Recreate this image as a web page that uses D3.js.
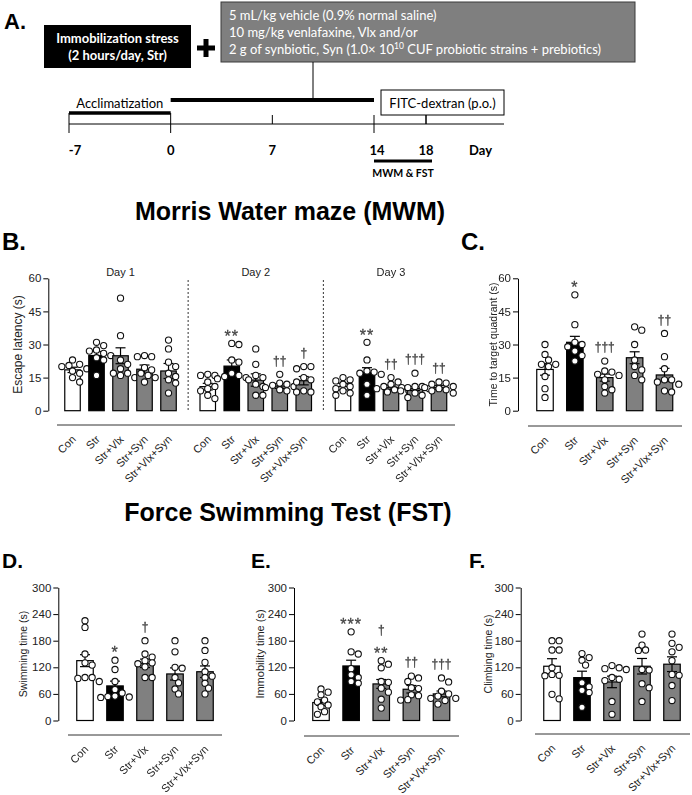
<!DOCTYPE html>
<html><head><meta charset="utf-8">
<script src="https://cdn.jsdelivr.net/npm/d3@7"></script>
<style>body{margin:0;background:#fff}svg{display:block}.sig{will-change:transform}</style>
</head><body>
<svg id="fig" width="692" height="795"></svg>
<script>
// ================= DATA =================
const groups = ["Con", "Str", "Str+Vlx", "Str+Syn", "Str+Vlx+Syn"];
const groupFill = ["#ffffff", "#000000", "#808080", "#808080", "#808080"];
const mwmDays = ["Day 1", "Day 2", "Day 3"];
const timelineTicks = [-7, 0, 7, 14, 18];
const treatmentLines = ["5 mL/kg vehicle (0.9% normal saline)", "10 mg/kg venlafaxine, Vlx and/or"];
const mwmTicks = [0, 15, 30, 45, 60];
const fstTicks = [0, 60, 120, 180, 240, 300];

// B. Escape latency (s)
const escapeMeanDay1 = [18.5, 25.0, 24.9, 18.8, 18.0];
const escapeSemDay1  = [1.2, 1.8, 3.6, 1.9, 3.4];
const escapePointsDay1 = [
  [23, 21, 20.5, 20, 19, 18, 17, 15, 13],
  [31, 29.5, 27.5, 27, 26, 25, 24, 23, 16],
  [51, 34, 23, 21, 19, 17, 17, 16, 15],
  [25, 24.5, 24.5, 19.5, 18.5, 17, 16, 15, 13],
  [32, 28, 22, 20, 17, 15.5, 14, 12.5, 8]
];
const escapeSigDay1 = [[], [], [], [], []];
const escapeMeanDay2 = [10.9, 20.2, 13.9, 11.2, 13.6];
const escapeSemDay2  = [1.5, 2.8, 2.8, 1.1, 1.9];
const escapePointsDay2 = [
  [16.5, 16, 16, 13, 11, 10, 9, 7, 5.5],
  [30.5, 30, 23, 22, 17, 16, 15.5, 15, 14.5],
  [28, 21, 16, 15, 14, 12, 11, 7, 7],
  [16.5, 12.5, 12, 11.5, 11, 10.5, 10, 9.5, 9],
  [20, 20, 19, 15, 14, 13, 9, 8.5, 8.5]
];
const escapeSigDay2 = [[], ["**"], [], ["††"], ["†"]];
const escapeMeanDay3 = [10.9, 17.4, 10.6, 10.0, 10.6];
const escapeSemDay3  = [1.5, 2.1, 1.0, 0.9, 0.9];
const escapePointsDay3 = [
  [15, 14, 13.5, 12, 11, 10, 9, 8, 7],
  [31, 23, 18, 17.5, 17, 16.5, 12, 7],
  [15, 13, 12, 11, 10.5, 10, 9.5, 9, 8.5],
  [17, 11, 11, 10.5, 10, 9, 8, 7, 6],
  [13, 12.5, 12, 11, 10.5, 10, 9.5, 9, 8]
];
const escapeSigDay3 = [[], ["**"], ["††"], ["†††"], ["††"]];

// C. Time to target quadrant (s)
const quadrantMean = [18.7, 31.0, 15.0, 24.0, 16.2];
const quadrantSem  = [2.6, 2.7, 1.6, 2.7, 3.0];
const quadrantPoints = [
  [30, 25.5, 23, 21, 21, 20, 15.5, 10, 6],
  [52.5, 39, 31, 30, 29, 27, 25, 22.5],
  [22.5, 18, 17.5, 16.5, 16, 14, 11, 9.5, 8],
  [38, 36.5, 30, 23, 20, 18.5, 16, 14],
  [35, 24.5, 19, 14, 14, 13, 12, 9, 8.5]
];
const quadrantSig = [[], ["*"], ["†††"], [], ["††"]];

// D. Swimming time (s)
const swimMean = [135, 78, 129, 105, 110];
const swimSem  = [13.5, 10.8, 9.5, 13.7, 13];
const swimPoints = [
  [225, 210, 150, 130, 125, 97, 97, 95, 88],
  [136, 115, 88, 70, 62, 55, 54, 53, 52],
  [180, 150, 143, 135, 130, 128, 121, 97, 97],
  [180, 155, 120, 118, 97, 85, 71, 60],
  [180, 158, 131, 110, 100, 97, 84, 73, 60]
];
const swimSig = [[], ["*"], ["†"], [], []];

// E. Immobility time (s)
const immobMean = [40.5, 123, 82.5, 70.5, 60];
const immobSem  = [6.5, 13, 10, 8.5, 6.5];
const immobPoints = [
  [71, 64, 58, 46, 42, 35, 31, 20, 14],
  [200, 155, 150, 117, 103, 97, 88, 84],
  [135, 127, 119, 88, 86, 73, 64, 48, 28],
  [100, 96, 88, 74, 72, 58, 56, 47, 46],
  [96, 87, 66, 60, 55, 50, 50, 45, 37]
];
const immobSig = [[], ["***"], ["**", "†"], ["††"], ["†††"]];

// F. Climbing time (s)
const climbMean = [122.4, 96.7, 87, 122.4, 127];
const climbSem  = [17, 14.5, 13, 17.5, 16.6];
const climbPoints = [
  [180, 180, 159, 159, 119, 104, 102, 101, 59, 49],
  [151, 142, 136, 125, 85, 76, 68, 63, 30],
  [124, 119, 117, 115, 97, 93, 90, 43, 14],
  [195, 170, 159, 158, 115, 114, 83, 74, 43],
  [195, 174, 165, 155, 135, 104, 102, 79, 45]
];
const climbSig = [[], [], [], [], []];

// ================= DRAWING =================
const svg = d3.select("#fig");
const SANS = "'Liberation Sans', Arial, sans-serif";
const CAL = "Lato, 'Open Sans', sans-serif";

// ---------- Panel A ----------
const A = svg.append("g");
A.append("text").attr("x", 4).attr("y", 29).attr("font-family", SANS).attr("font-weight", "bold")
  .attr("font-size", 22).text("A.");
A.append("rect").attr("x", 44).attr("y", 25).attr("width", 147).attr("height", 43).attr("fill", "#000");
A.append("text").attr("x", 117.5).attr("y", 42.5).attr("text-anchor", "middle").attr("fill", "#fff")
  .attr("font-family", CAL).attr("font-weight", "bold").attr("font-size", 13).text("Immobilization stress");
A.append("text").attr("x", 117.5).attr("y", 59.5).attr("text-anchor", "middle").attr("fill", "#fff")
  .attr("font-family", CAL).attr("font-weight", "bold").attr("font-size", 13).text("(2 hours/day, Str)");
A.append("rect").attr("x", 197).attr("y", 45.5).attr("width", 18).attr("height", 5).attr("fill", "#000");
A.append("rect").attr("x", 203.5).attr("y", 39).attr("width", 5).attr("height", 18).attr("fill", "#000");
A.append("rect").attr("x", 221).attr("y", 2).attr("width", 414).attr("height", 60)
  .attr("fill", "#7f7f7f").attr("stroke", "#3a3a3a").attr("stroke-width", 1);
treatmentLines.forEach((t, i) => {
  A.append("text").attr("x", 229).attr("y", 20 + i * 17).attr("fill", "#fff")
    .attr("font-family", CAL).attr("font-size", 13).text(t);
});
const l3 = A.append("text").attr("x", 229).attr("y", 54).attr("fill", "#fff")
  .attr("font-family", CAL).attr("font-size", 13);
l3.append("tspan").text("2 g of synbiotic, Syn (1.0\u00d7 10");
l3.append("tspan").attr("font-size", 8.5).attr("dy", -5).text("10");
l3.append("tspan").attr("dy", 5).text(" CUF probiotic strains + prebiotics)");

const dayScale = d3.scaleLinear().domain([-7, 14, 18, 24]).range([69, 374, 426, 504]);
const TL = A.append("g").attr("stroke", "#000");
TL.append("line").attr("x1", dayScale(-7)).attr("x2", dayScale(24)).attr("y1", 124).attr("y2", 124).attr("stroke-width", 1);
TL.append("line").attr("x1", dayScale(-7)).attr("x2", dayScale(0)).attr("y1", 113).attr("y2", 113).attr("stroke-width", 3.5);
TL.append("line").attr("x1", dayScale(0)).attr("x2", dayScale(14)).attr("y1", 100).attr("y2", 100).attr("stroke-width", 4);
TL.append("line").attr("x1", dayScale(9.8)).attr("x2", dayScale(9.8)).attr("y1", 62).attr("y2", 100).attr("stroke-width", 1);
TL.selectAll("line.tk").data(timelineTicks).join("line").attr("class", "tk")
  .attr("x1", d => dayScale(d)).attr("x2", d => dayScale(d))
  .attr("y1", d => (d <= 0 ? 113 : 115)).attr("y2", d => (d <= 0 || d === 14 ? 133 : 124))
  .attr("stroke-width", 1);
A.append("rect").attr("x", dayScale(14) + 7).attr("y", 90).attr("width", dayScale(24) - dayScale(14) - 7).attr("height", 25)
  .attr("fill", "#fff").attr("stroke", "#000").attr("stroke-width", 1);
A.append("line").attr("x1", dayScale(18)).attr("x2", dayScale(18)).attr("y1", 115).attr("y2", 124).attr("stroke", "#000");
A.append("text").attr("x", (dayScale(14) + 7 + dayScale(24)) / 2).attr("y", 107.5).attr("text-anchor", "middle")
  .attr("font-family", CAL).attr("font-size", 13).text("FITC-dextran (p.o.)");
A.append("text").attr("x", (dayScale(-7) + dayScale(0)) / 2).attr("y", 107.5).attr("text-anchor", "middle")
  .attr("font-family", CAL).attr("font-size", 13).text("Acclimatization");
A.selectAll("text.tl").data(timelineTicks).join("text").attr("class", "tl")
  .attr("x", d => dayScale(d) + (d < 0 ? 6 : d === 14 ? 3 : 0)).attr("y", 155).attr("text-anchor", "middle")
  .attr("font-family", CAL).attr("font-weight", "bold").attr("font-size", 13).text(d => d);
A.append("text").attr("x", dayScale(22.2)).attr("y", 155).attr("text-anchor", "middle")
  .attr("font-family", CAL).attr("font-weight", "bold").attr("font-size", 13).text("Day");
A.append("line").attr("x1", dayScale(14)).attr("x2", dayScale(18) + 6).attr("y1", 161).attr("y2", 161)
  .attr("stroke", "#000").attr("stroke-width", 3);
A.append("text").attr("x", (dayScale(14) + dayScale(18) + 6) / 2).attr("y", 177).attr("text-anchor", "middle")
  .attr("font-family", CAL).attr("font-weight", "bold").attr("font-size", 10.5).text("MWM & FST");

// ---------- titles & panel letters ----------
function bigText(x, y, t, size, anchor) {
  svg.append("text").attr("x", x).attr("y", y).attr("text-anchor", anchor || "start")
    .attr("font-family", SANS).attr("font-weight", "bold").attr("font-size", size).text(t);
}
bigText(290, 220, "Morris Water maze (MWM)", 25, "middle");
bigText(288, 521, "Force Swimming Test (FST)", 25, "middle");
bigText(2, 250, "B.", 24);
bigText(461, 250, "C.", 24);
bigText(2, 568, "D.", 21);
bigText(251, 568, "E.", 21);
bigText(469, 568, "F.", 21);

// ---------- helpers ----------
function swarm(values, y, r) {
  const placed = [], out = new Array(values.length);
  const order = values.map((v, i) => i).sort((a, b) => values[b] - values[a]);
  const step = r * 1.15;
  for (const i of order) {
    const yy = y(values[i]);
    const cands = [0];
    for (let k = 1; k < 8; k++) cands.push(k * step, -k * step);
    let off = cands[cands.length - 1];
    for (const c of cands) {
      if (placed.every(p => Math.hypot(p.x - c, p.y - yy) >= 2 * r * 0.92)) { off = c; break; }
    }
    placed.push({ x: off, y: yy }); out[i] = off;
  }
  return out;
}

function yAxis(x0, y, ticks, label, labelX, labelSize) {
  const g = svg.append("g").attr("transform", `translate(${x0},0)`)
    .call(d3.axisLeft(y).tickValues(ticks).tickSize(5).tickSizeOuter(0).tickPadding(2));
  g.select(".domain").attr("stroke", "#000").attr("stroke-width", 1);
  g.selectAll(".tick line").attr("stroke", "#000");
  g.selectAll(".tick text").attr("font-family", SANS).attr("font-size", 11.5).attr("fill", "#222");
  const [r0, r1] = y.range();
  svg.append("text").attr("transform", `translate(${labelX},${(r0 + r1) / 2}) rotate(-90)`)
    .attr("text-anchor", "middle").attr("dominant-baseline", "central")
    .attr("font-family", SANS).attr("font-size", labelSize).attr("fill", "#222").text(label);
}

function drawGroups(xPos, y, means, sems, points, sigs, barW) {
  const g = svg.append("g");
  groups.forEach((name, i) => {
    const cx = xPos(name);
    g.append("rect").attr("x", cx - barW / 2).attr("y", y(means[i])).attr("width", barW)
      .attr("height", y(0) - y(means[i])).attr("fill", groupFill[i]).attr("stroke", "#000").attr("stroke-width", 1.2);
    const hi = y(means[i] + sems[i]), lo = y(means[i] - sems[i]);
    g.append("line").attr("x1", cx).attr("x2", cx).attr("y1", hi).attr("y2", lo).attr("stroke", "#000").attr("stroke-width", 1.2);
    [hi, lo].forEach(yy => g.append("line").attr("x1", cx - 5).attr("x2", cx + 5).attr("y1", yy).attr("y2", yy)
      .attr("stroke", "#000").attr("stroke-width", 1.2));
    const offs = swarm(points[i], y, 3.1);
    g.selectAll(null).data(points[i]).join("circle")
      .attr("cx", (d, k) => cx + offs[k]).attr("cy", d => y(d)).attr("r", 3.1)
      .attr("fill", "#fff").attr("stroke", "#111").attr("stroke-width", 1.1);
    const top = Math.min(y(d3.max(points[i])), hi);
    sigs[i].forEach((s, k) => {
      const star = s.includes("*");
      const fs = star ? 16 : 12;
      const center = top - (star ? 11 : 13) - k * 17;
      g.append("text").attr("class", "sig").attr("x", cx).attr("y", center + (star ? 0.58 : 0.27) * fs)
        .attr("text-anchor", "middle").attr("font-family", SANS).attr("font-size", fs)
        .attr("letter-spacing", star ? 1 : 0).attr("fill", "#444")
        .attr("stroke", "#444").attr("stroke-width", 0.3).text(s);
    });
  });
}

function xLabels(xPos, lineY) {
  svg.append("g").selectAll("text").data(groups).join("text")
    .attr("transform", d => `translate(${xPos(d) + 4},${lineY + 15}) rotate(-45)`)
    .attr("text-anchor", "end").attr("font-family", SANS).attr("font-size", 11).attr("fill", "#222").text(d => d);
}
function baseLine(x1, x2, y) {
  svg.append("line").attr("x1", x1).attr("x2", x2).attr("y1", y).attr("y2", y)
    .attr("stroke", "#333").attr("stroke-width", 1);
}

// ---------- Panel B ----------
const yB = d3.scaleLinear().domain([0, 60]).range([410.7, 278.3]);
yAxis(48.3, yB, mwmTicks, "Escape latency (s)", 18, 12);
const dayBand = d3.scaleBand().domain(mwmDays).range([52.9, 458.6]);
const inner = d3.scalePoint().domain(groups).range([0, 96]);
const dayData = [
  [escapeMeanDay1, escapeSemDay1, escapePointsDay1, escapeSigDay1],
  [escapeMeanDay2, escapeSemDay2, escapePointsDay2, escapeSigDay2],
  [escapeMeanDay3, escapeSemDay3, escapePointsDay3, escapeSigDay3]
];
mwmDays.forEach((day, di) => {
  const x0 = dayBand(day) + (dayBand.bandwidth() - 96) / 2;
  const xPos = g => x0 + inner(g);
  const [m, s, p, sg] = dayData[di];
  drawGroups(xPos, yB, m, s, p, sg, 15.5);
  svg.append("text").attr("x", dayBand(day) + dayBand.bandwidth() / 2).attr("y", 276)
    .attr("text-anchor", "middle").attr("font-family", SANS).attr("font-size", 11).attr("fill", "#222").text(day);
  xLabels(xPos, 425);
  if (di > 0) {
    svg.append("line").attr("x1", dayBand(day)).attr("x2", dayBand(day)).attr("y1", 280).attr("y2", 410.7)
      .attr("stroke", "#333").attr("stroke-width", 1).attr("stroke-dasharray", "2,2");
  }
});
baseLine(57, 455, 425);

// ---------- Panel C ----------
const xC = d3.scalePoint().domain(groups).range([545, 664.5]);
yAxis(518, yB, mwmTicks, "Time to target quadrant (s)", 493, 10.5);
drawGroups(xC, yB, quadrantMean, quadrantSem, quadrantPoints, quadrantSig, 16.5);
baseLine(528, 682, 426);
xLabels(xC, 426);

// ---------- Panels D, E, F ----------
const yF = d3.scaleLinear().domain([0, 300]).range([720.5, 587.5]);
const xD = d3.scalePoint().domain(groups).range([85, 205]);
yAxis(58.3, yF, fstTicks, "Swimming time (s)", 23, 10.5);
drawGroups(xD, yF, swimMean, swimSem, swimPoints, swimSig, 16.5);
baseLine(68, 222, 735);
xLabels(xD, 735);

const xE = d3.scalePoint().domain(groups).range([321, 441.5]);
yAxis(294, yF, fstTicks, "Immobility time (s)", 260, 11);
drawGroups(xE, yF, immobMean, immobSem, immobPoints, immobSig, 16.5);
baseLine(304, 459, 736);
xLabels(xE, 736);

const xF = d3.scalePoint().domain(groups).range([552, 672]);
yAxis(520.7, yF, fstTicks, "Climbing time (s)", 488, 10.5);
drawGroups(xF, yF, climbMean, climbSem, climbPoints, climbSig, 16.5);
baseLine(535, 690, 734);
xLabels(xF, 734);
</script>
</body></html>
